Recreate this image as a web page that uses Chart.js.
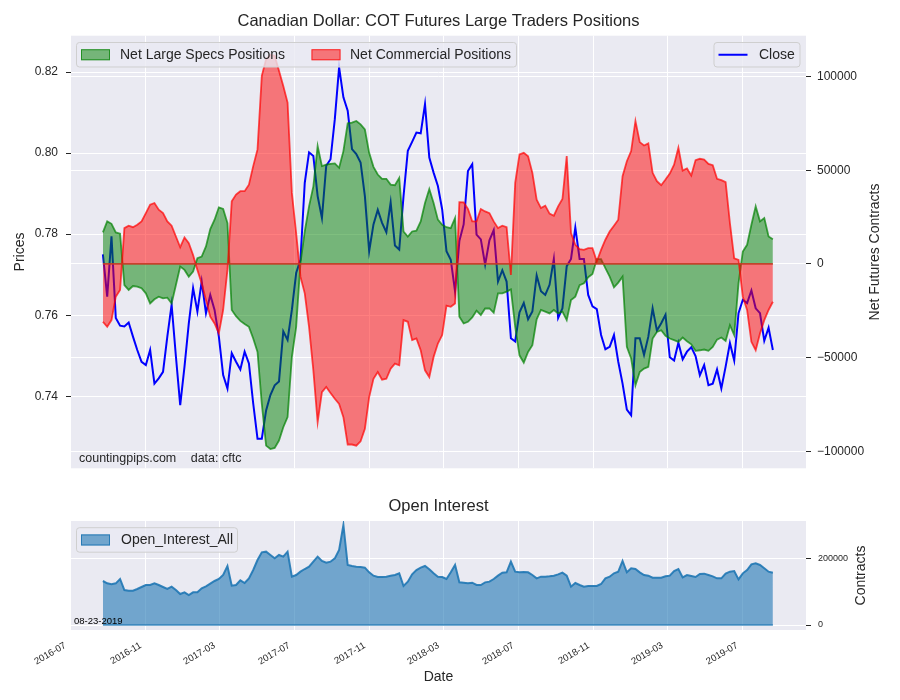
<!DOCTYPE html>
<html>
<head>
<meta charset="utf-8">
<title>Canadian Dollar: COT Futures Large Traders Positions</title>
<script src="https://cdn.jsdelivr.net/npm/chart.js@4.4.1/dist/chart.umd.min.js"></script>
<style>
  html, body { margin: 0; padding: 0; background: #ffffff; }
  #wrap { position: relative; width: 900px; height: 700px; }
  canvas { position: absolute; left: 0; }
  #cotChart { top: 0; }
  #oiChart { top: 490px; }
</style>
</head>
<body>
<div id="wrap">
  <canvas id="cotChart" width="900" height="490"></canvas>
  <canvas id="oiChart" width="900" height="210"></canvas>
</div>
<script>
// weekly COT reports (Tuesdays), first report date
const firstReport = '2016-08-23';

// CAD/USD close on each report date
const closePrices = [
  0.7750, 0.7646, 0.7795, 0.7593, 0.7574, 0.7572, 0.7582, 0.7547, 0.7514, 0.7485,
  0.7477, 0.7514, 0.7431, 0.7444, 0.7460, 0.7547, 0.7626, 0.7498, 0.7378, 0.7473,
  0.7580, 0.7667, 0.7609, 0.7683, 0.7605, 0.7650, 0.7613, 0.7547, 0.7452, 0.7419,
  0.7506, 0.7485, 0.7466, 0.7510, 0.7481, 0.7382, 0.7295, 0.7295, 0.7365, 0.7403,
  0.7427, 0.7436, 0.7560, 0.7539, 0.7613, 0.7704, 0.7737, 0.7927, 0.8002, 0.7993,
  0.7894, 0.7840, 0.7969, 0.7985, 0.8084, 0.8212, 0.8138, 0.8105, 0.8010, 0.7998,
  0.7977, 0.7894, 0.7758, 0.7824, 0.7860, 0.7828, 0.7805, 0.7878, 0.7772, 0.7762,
  0.7894, 0.8006, 0.8028, 0.8051, 0.8049, 0.8121, 0.7989, 0.7952, 0.7919, 0.7861,
  0.7758, 0.7737, 0.7659, 0.7783, 0.7824, 0.7956, 0.7973, 0.7799, 0.7787, 0.7725,
  0.7785, 0.7810, 0.7683, 0.7711, 0.7683, 0.7543, 0.7535, 0.7607, 0.7630, 0.7590,
  0.7609, 0.7698, 0.7659, 0.7650, 0.7675, 0.7739, 0.7593, 0.7617, 0.7721, 0.7739,
  0.7816, 0.7739, 0.7739, 0.7650, 0.7622, 0.7615, 0.7551, 0.7516, 0.7522, 0.7551,
  0.7485, 0.7431, 0.7367, 0.7353, 0.7543, 0.7543, 0.7502, 0.7547, 0.7617, 0.7562,
  0.7580, 0.7601, 0.7496, 0.7488, 0.7532, 0.7491, 0.7510, 0.7521, 0.7499, 0.7452,
  0.7477, 0.7427, 0.7431, 0.7466, 0.7419, 0.7473, 0.7531, 0.7488, 0.7605, 0.7638,
  0.7630, 0.7661, 0.7617, 0.7605, 0.7537, 0.7569, 0.7514
];

// net positions, contracts
const netLargeSpecs = [
  16800, 22700, 21400, 16800, 16100, -11300, -13900, -11800, -12100, -13000,
  -15700, -21100, -18900, -17500, -18400, -18000, -21100, -11300, -1400, -3200,
  -6800, -4100, 3000, 3900, 9300, 18600, 23600, 30200, 29300, 21800,
  -24600, -27900, -30400, -32100, -33600, -39800, -47000, -74700, -97000, -98800,
  -98200, -94300, -87200, -81800, -49700, -33600, 400, 17300, 30700, 41400,
  62900, 52200, 53000, 53400, 53600, 51300, 60200, 75000, 75400, 76300,
  74500, 71800, 59300, 51800, 47700, 45400, 45400, 42300, 42000, 45900,
  17300, 14600, 17300, 17700, 22700, 32500, 40000, 32500, 23600, 20900,
  19600, 19100, 24500, -28200, -31800, -30900, -28600, -25000, -27300, -23800,
  -23800, -26100, -15700, -15700, -14800, -13600, -33600, -48800, -52700, -47000,
  -43400, -29600, -24600, -25500, -26400, -24600, -26400, -25500, -30000, -19300,
  -17500, -11300, -10400, -7100, -5400, 2500, 2500, -2300, -6800, -12500,
  -10000, -6800, -44300, -50500, -64800, -57700, -55900, -55000, -39800, -36300,
  -35400, -38400, -39800, -40700, -41600, -39300, -41300, -42900, -46400, -46100,
  -45700, -46400, -44300, -40400, -39300, -41100, -32700, -38000, -10400, 6600,
  10200, 20900, 30700, 22700, 24500, 14600, 13200
];

const netCommercial = [
  -30900, -33600, -30000, -17500, -13900, 19100, 20400, 19600, 20900, 22700,
  27100, 31600, 32500, 28900, 27100, 22700, 20400, 14600, 8900, 14100,
  11100, 4800, -3200, -10400, -19300, -28200, -31800, -37100, -24600, -3200,
  33400, 37000, 38800, 38800, 42300, 52200, 61100, 100400, 109300, 111600,
  111100, 103100, 95000, 86100, 37900, 16400, -6800, -15700, -33600, -56800,
  -84500, -68400, -65700, -68900, -72000, -74700, -81800, -96400, -96400, -97000,
  -94700, -88000, -71100, -61300, -57700, -61800, -61300, -55900, -53200, -54100,
  -30000, -30900, -40700, -39800, -46100, -56800, -60400, -49700, -42500, -38000,
  -22300, -22900, -21100, 33000, 32900, 29300, 22700, 22700, 29300, 28000,
  27100, 22700, 19100, 20400, 19600, -5900, 43200, 58400, 59300, 57500,
  48600, 34300, 29800, 31100, 26800, 25700, 30700, 34600, 57500, 16400,
  10200, 7900, 7500, 8400, 8400, 1300, 7500, 12900, 17300, 20400,
  23600, 46800, 54800, 60200, 76300, 65000, 63200, 64300, 48600, 44100,
  42000, 45000, 48200, 53000, 62000, 49800, 50900, 47200, 55400, 56100,
  55700, 53400, 52700, 45400, 44700, 43600, 21800, 3000, 2100, -17500,
  -24600, -41600, -46100, -37100, -30000, -24600, -20200
];

const openInterest = [
  132000, 125000, 122000, 125000, 138000, 105000, 103000, 103000, 108000, 114000,
  120000, 120000, 125000, 120000, 114000, 108000, 115000, 105000, 93000, 98000,
  90000, 98000, 98000, 110000, 116000, 124000, 132000, 138000, 150000, 177000,
  118000, 120000, 134000, 126000, 140000, 165000, 195000, 218000, 220000, 210000,
  200000, 210000, 205000, 220000, 145000, 150000, 160000, 168000, 175000, 190000,
  205000, 192000, 187000, 190000, 200000, 225000, 300000, 180000, 177000, 175000,
  174000, 172000, 158000, 148000, 144000, 144000, 145000, 148000, 150000, 155000,
  117000, 130000, 152000, 165000, 172000, 177000, 167000, 155000, 145000, 144000,
  138000, 158000, 180000, 128000, 127000, 125000, 127000, 120000, 120000, 128000,
  130000, 138000, 148000, 157000, 158000, 190000, 160000, 158000, 159000, 158000,
  150000, 140000, 145000, 145000, 146000, 148000, 152000, 157000, 148000, 115000,
  126000, 120000, 115000, 117000, 117000, 117000, 123000, 140000, 145000, 155000,
  160000, 192000, 158000, 170000, 168000, 158000, 150000, 148000, 142000, 142000,
  142000, 146000, 148000, 162000, 168000, 143000, 150000, 147000, 144000, 153000,
  154000, 150000, 146000, 140000, 140000, 154000, 160000, 162000, 137000, 155000,
  165000, 182000, 185000, 180000, 170000, 160000, 157000
];

// axis ticks
const monthTicks = ['2016-07', '2016-11', '2017-03', '2017-07', '2017-11', '2018-03',
  '2018-07', '2018-11', '2019-03', '2019-07'];
const priceTicks = [0.74, 0.76, 0.78, 0.80, 0.82];
const netTicks = [-100000, -50000, 0, 50000, 100000];
const oiTicks = [0, 200000];

const TEXT = '#262626';
const FONT = '"Liberation Sans", Arial, sans-serif';
Chart.defaults.font.family = FONT;
Chart.defaults.color = TEXT;

// x values are days counted from 2016-07-01
const DAY0 = Date.UTC(2016, 6, 1);
function dayOf(str) {
  const p = str.split('-').map(Number);
  return (Date.UTC(p[0], p[1] - 1, p[2] || 1) - DAY0) / 86400000;
}
const startDay = dayOf(firstReport);
const reportDays = closePrices.map((_, i) => startDay + 7 * i);
const tickDays = monthTicks.map(dayOf);
const lastDay = reportDays[reportDays.length - 1];

function pts(values) {
  return values.map((v, i) => ({ x: reportDays[i], y: v }));
}
function fmtNum(v) {
  return (v < 0 ? '\u2212' : '') + Math.abs(v);
}

function drawLegend(ctx, chart, lg) {
  const b = lg.box;
  ctx.save();
  ctx.beginPath();
  if (ctx.roundRect) ctx.roundRect(b.x, b.y, b.w, b.h, 3); else ctx.rect(b.x, b.y, b.w, b.h);
  ctx.fillStyle = 'rgba(234,234,242,0.8)';
  ctx.fill();
  ctx.strokeStyle = '#cfcfcf';
  ctx.lineWidth = 1;
  ctx.stroke();
  const cy = b.y + b.h / 2;
  lg.items.forEach(it => {
    const ds = chart.data.datasets[it.dataset];
    if (it.kind === 'line') {
      ctx.strokeStyle = ds.borderColor;
      ctx.lineWidth = ds.borderWidth;
      ctx.beginPath();
      ctx.moveTo(it.x, cy);
      ctx.lineTo(it.x + 29, cy);
      ctx.stroke();
    } else {
      ctx.fillStyle = ds.backgroundColor;
      ctx.fillRect(it.x, cy - 5.5, 29, 11);
      ctx.strokeStyle = ds.borderColor;
      ctx.lineWidth = 1;
      ctx.strokeRect(it.x + 0.5, cy - 5, 28, 10);
    }
    ctx.fillStyle = TEXT;
    ctx.font = '14px ' + FONT;
    ctx.textAlign = 'left';
    ctx.textBaseline = 'middle';
    ctx.fillText(ds.label, it.textX, cy + 0.5);
  });
  ctx.restore();
}

function makeOverlay(legends, labels) {
  return {
    id: 'overlayText',
    afterDraw(chart) {
      const ctx = chart.ctx;
      legends.forEach(lg => drawLegend(ctx, chart, lg));
      labels.forEach(t => {
        ctx.save();
        ctx.font = t.font;
        ctx.fillStyle = t.color || TEXT;
        ctx.textAlign = t.align || 'left';
        ctx.textBaseline = 'middle';
        ctx.translate(t.x, t.y);
        if (t.rotate) ctx.rotate(t.rotate);
        ctx.fillText(t.text, 0, 0);
        ctx.restore();
      });
    }
  };
}

const gridStyle = { color: '#ffffff', lineWidth: 1, drawTicks: false };

// ---------- top panel: prices and net positions ----------
new Chart(document.getElementById('cotChart'), {
  type: 'line',
  data: {
    datasets: [
      {
        label: 'Close',
        data: pts(closePrices),
        yAxisID: 'yL',
        borderColor: '#0000ff',
        borderWidth: 2,
        pointRadius: 0,
        fill: false,
        order: 4
      },
      {
        label: 'Net Large Specs Positions',
        data: pts(netLargeSpecs),
        yAxisID: 'yR',
        borderColor: 'rgba(0,128,0,0.7)',
        backgroundColor: 'rgba(0,128,0,0.5)',
        borderWidth: 1.8,
        pointRadius: 0,
        fill: { value: 0 },
        order: 3
      },
      {
        label: 'Net Commercial Positions',
        data: pts(netCommercial),
        yAxisID: 'yR',
        borderColor: 'rgba(255,0,0,0.7)',
        backgroundColor: 'rgba(255,0,0,0.5)',
        borderWidth: 1.8,
        pointRadius: 0,
        fill: { value: 0 },
        order: 2
      },
      {
        label: 'zero',
        data: [{ x: startDay, y: 0 }, { x: lastDay, y: 0 }],
        yAxisID: 'yR',
        borderColor: 'rgba(196,58,36,0.9)',
        borderWidth: 1.6,
        pointRadius: 0,
        fill: false,
        order: 1
      }
    ]
  },
  options: {
    responsive: false,
    animation: false,
    layout: { padding: { left: 0, right: 0, top: 0, bottom: 21.7 } },
    plugins: {
      legend: { display: false },
      tooltip: { enabled: false },
      title: {
        display: true,
        fullSize: false,
        text: 'Canadian Dollar: COT Futures Large Traders Positions',
        color: TEXT,
        font: { size: 16.5, weight: 'normal' },
        padding: { top: 11.1, bottom: 4.8 }
      }
    },
    scales: {
      x: {
        type: 'linear',
        min: 1,
        max: 1199,
        grid: gridStyle,
        border: { display: false },
        ticks: { display: false },
        afterBuildTicks: s => { s.ticks = tickDays.map(v => ({ value: v })); },
        afterFit: s => { s.height = 0; }
      },
      yL: {
        position: 'left',
        min: 0.7222,
        max: 0.829,
        grid: { color: '#ffffff', lineWidth: 1, drawTicks: true, tickLength: 5, tickColor: TEXT, tickWidth: 1 },
        border: { display: false },
        ticks: { font: { size: 12 }, padding: 8, callback: v => v.toFixed(2) },
        afterBuildTicks: s => { s.ticks = priceTicks.map(v => ({ value: v })); },
        afterFit: s => { s.width = 71; }
      },
      yR: {
        position: 'right',
        min: -109100,
        max: 121800,
        grid: { color: '#ffffff', lineWidth: 1, drawTicks: true, tickLength: 5, tickColor: TEXT, tickWidth: 1 },
        border: { display: false },
        ticks: { font: { size: 12 }, padding: 6, callback: v => fmtNum(v) },
        afterBuildTicks: s => { s.ticks = netTicks.map(v => ({ value: v })); },
        afterFit: s => { s.width = 94; }
      }
    }
  },
  plugins: [
    {
      id: 'plotBg',
      beforeDraw(chart) {
        const a = chart.chartArea;
        chart.ctx.save();
        chart.ctx.fillStyle = '#eaeaf2';
        chart.ctx.fillRect(a.left, a.top, a.right - a.left, a.bottom - a.top);
        chart.ctx.restore();
      }
    },
    makeOverlay(
      [
        {
          box: { x: 76.5, y: 42.5, w: 440, h: 24.5 },
          items: [
            { dataset: 1, kind: 'patch', x: 81, textX: 120 },
            { dataset: 2, kind: 'patch', x: 311.5, textX: 350 }
          ]
        },
        {
          box: { x: 714, y: 42.5, w: 86, h: 24.5 },
          items: [{ dataset: 0, kind: 'line', x: 718.5, textX: 759 }]
        }
      ],
      [
        { text: 'countingpips.com', x: 79, y: 458.3, font: '12.5px ' + FONT },
        { text: 'data: cftc', x: 190.7, y: 458.3, font: '12.5px ' + FONT },
        { text: 'Prices', x: 20, y: 252, rotate: -Math.PI / 2, align: 'center', font: '14px ' + FONT },
        { text: 'Net Futures Contracts', x: 875, y: 252, rotate: -Math.PI / 2, align: 'center', font: '14px ' + FONT }
      ]
    )
  ]
});

// ---------- bottom panel: open interest ----------
new Chart(document.getElementById('oiChart'), {
  type: 'line',
  data: {
    datasets: [
      {
        label: 'Open_Interest_All',
        data: pts(openInterest),
        yAxisID: 'y',
        borderColor: 'rgba(31,119,180,0.9)',
        backgroundColor: 'rgba(31,119,180,0.6)',
        borderWidth: 2,
        pointRadius: 0,
        fill: { value: 0 },
        order: 2
      },
      {
        label: 'base',
        data: [{ x: startDay, y: 0 }, { x: lastDay, y: 0 }],
        yAxisID: 'y',
        borderColor: 'rgba(31,119,180,0.8)',
        borderWidth: 1.5,
        pointRadius: 0,
        fill: false,
        order: 1
      }
    ]
  },
  options: {
    responsive: false,
    animation: false,
    layout: { padding: { left: 71, right: 0, top: 0, bottom: 0 } },
    plugins: {
      legend: { display: false },
      tooltip: { enabled: false },
      title: {
        display: true,
        fullSize: false,
        text: 'Open Interest',
        color: TEXT,
        font: { size: 16.5, weight: 'normal' },
        padding: { top: 6.1, bottom: 5.1 }
      }
    },
    scales: {
      x: {
        type: 'linear',
        min: 1,
        max: 1199,
        grid: gridStyle,
        border: { display: false },
        ticks: {
          font: { size: 9.5 },
          color: TEXT,
          minRotation: 30,
          maxRotation: 30,
          autoSkip: false,
          padding: 10,
          labelOffset: -5,
          callback: v => {
            const k = tickDays.indexOf(v);
            return k >= 0 ? monthTicks[k] : '';
          }
        },
        title: {
          display: true,
          text: 'Date',
          color: TEXT,
          font: { size: 14 },
          padding: { top: 0, bottom: 14.6 }
        },
        afterBuildTicks: s => { s.ticks = tickDays.map(v => ({ value: v })); },
        afterFit: s => { s.height = 70; }
      },
      y: {
        position: 'right',
        min: -15000,
        max: 312000,
        grid: { color: '#ffffff', lineWidth: 1, drawTicks: true, tickLength: 5, tickColor: TEXT, tickWidth: 1 },
        border: { display: false },
        ticks: { font: { size: 9 }, padding: 7, callback: v => fmtNum(v) },
        afterBuildTicks: s => { s.ticks = oiTicks.map(v => ({ value: v })); },
        afterFit: s => { s.width = 94; }
      }
    }
  },
  plugins: [
    {
      id: 'plotBg',
      beforeDraw(chart) {
        const a = chart.chartArea;
        chart.ctx.save();
        chart.ctx.fillStyle = '#eaeaf2';
        chart.ctx.fillRect(a.left, a.top, a.right - a.left, a.bottom - a.top);
        chart.ctx.restore();
      }
    },
    makeOverlay(
      [
        {
          box: { x: 76.5, y: 37.7, w: 161, h: 24.5 },
          items: [{ dataset: 0, kind: 'patch', x: 81, textX: 121 }]
        }
      ],
      [
        { text: '08-23-2019', x: 74, y: 131.7, font: '9.5px ' + FONT, color: '#000000' },
        { text: 'Contracts', x: 861, y: 85.5, rotate: -Math.PI / 2, align: 'center', font: '14px ' + FONT }
      ]
    )
  ]
});
</script>
</body>
</html>
